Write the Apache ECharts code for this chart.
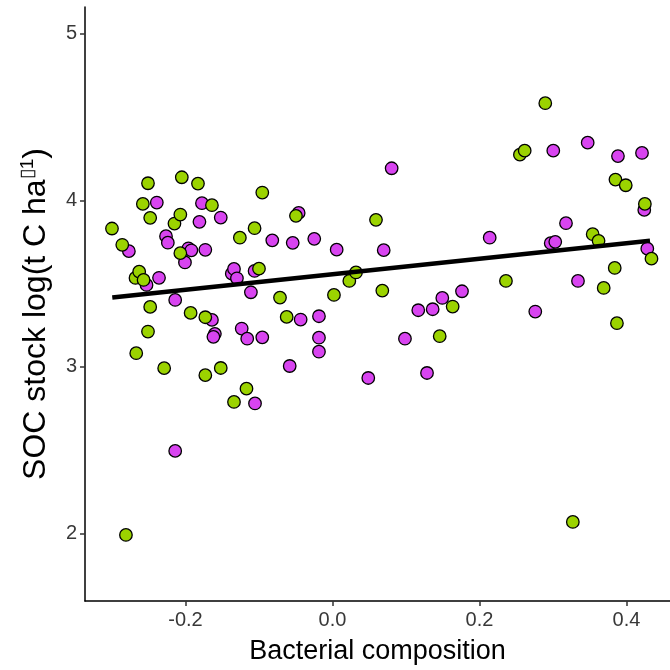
<!DOCTYPE html>
<html>
<head>
<meta charset="utf-8">
<script src="https://cdn.jsdelivr.net/npm/echarts@6/dist/echarts.min.js"></script>
<style>html,body{margin:0;padding:0;background:#fff}#c{width:670px;height:670px}</style>
</head>
<body>
<div id="c"></div>
<script>
// Green group: x, y
const greenX = [-0.300,-0.286,-0.268,-0.263,-0.257,-0.258,-0.251,-0.248,-0.248,-0.251,-0.267,-0.229,-0.215,-0.207,-0.205,-0.207,-0.193,-0.183,-0.173,-0.173,-0.164,-0.152,-0.134,-0.126,-0.117,-0.106,-0.100,-0.0955,-0.0714,-0.0623,-0.0497,0.002,0.0229,0.032,0.0592,0.0678,0.1459,0.1635,0.236,0.255,0.2615,0.2895,0.354,0.362,0.369,0.384,0.385,0.387,0.399,0.425,0.434,-0.281,0.327];
const greenY = [3.831,3.733,3.534,3.572,3.522,3.979,4.103,3.895,3.360,3.212,3.082,2.992,3.861,3.915,4.139,3.683,3.324,4.101,3.298,2.950,3.971,2.993,2.789,3.776,2.869,3.833,3.590,4.047,3.416,3.300,3.907,3.432,3.516,3.567,3.883,3.458,3.184,3.362,3.516,4.275,4.299,4.584,3.797,3.757,3.474,3.594,4.125,3.262,4.091,3.979,3.650,1.990,2.068];
// Magenta group: x, y
const magentaX = [-0.277,-0.253,-0.239,-0.236,-0.2265,-0.224,-0.214,-0.214,-0.2007,-0.196,-0.192,-0.181,-0.1776,-0.173,-0.164,-0.160,-0.162,-0.152,-0.137,-0.134,-0.130,-0.1235,-0.116,-0.111,-0.106,-0.1054,-0.0955,-0.0819,-0.0582,-0.0541,-0.046,-0.0433,-0.0248,-0.0184,-0.0184,-0.0184,0.0057,0.0487,0.0697,0.0805,0.0986,0.1167,0.1286,0.1363,0.1494,0.1762,0.2139,0.2759,0.2969,0.3031,0.3004,0.3177,0.334,0.3472,0.3884,0.4211,0.4242,0.4283];
const magentaY = [3.695,3.492,3.987,3.535,3.785,3.746,3.402,2.495,3.627,3.712,3.700,3.871,3.983,3.703,3.282,3.198,3.180,3.897,3.560,3.588,3.532,3.230,3.169,3.448,3.576,2.780,3.177,3.760,3.005,3.745,3.925,3.284,3.769,3.304,3.175,3.091,3.704,2.933,3.701,4.193,3.169,3.340,2.963,3.346,3.414,3.454,3.776,3.332,3.743,3.751,4.299,3.863,3.516,4.347,4.266,4.285,3.943,3.710];
// Fitted line end points
const fitX = [-0.2996, 0.432];
const fitY = [3.416, 3.757];
// Tick labels
const xTicks = [-0.2, 0.0, 0.2, 0.4];
const yTicks = [2, 3, 4, 5];

const zip = (a, b) => a.map((v, i) => [v, b[i]]);
const chart = echarts.init(document.getElementById('c'), null, {renderer: 'canvas'});
const font = 'Liberation Sans, Arial, sans-serif';
chart.setOption({
  animation: false,
  backgroundColor: '#ffffff',
  grid: {left: 85, right: 0, top: 7, bottom: 69},
  xAxis: {
    type: 'value', min: -0.3367, max: 0.4592,
    name: 'Bacterial composition', nameLocation: 'middle', nameGap: 37,
    nameTextStyle: {color: '#000', fontSize: 27, fontFamily: font},
    axisLine: {onZero: false, lineStyle: {color: '#000', width: 1.5}},
    axisTick: {show: true, length: 5, customValues: xTicks, lineStyle: {color: '#333', width: 1.5}},
    axisLabel: {customValues: xTicks, color: '#383838', fontSize: 20, fontFamily: font, margin: 9,
      formatter: v => v.toFixed(1)},
    splitLine: {show: false}
  },
  yAxis: {
    type: 'value', min: 1.593, max: 5.162,
    name: 'SOC stock log(t C ha{sup|▯1})', nameLocation: 'middle', nameGap: 31,
    nameTextStyle: {color: '#000', fontSize: 32, fontFamily: font, padding: [0, 20, 0, 0],
      rich: {sup: {fontSize: 19, verticalAlign: 'top', padding: [0, 0, 17, 0], color: '#000', fontFamily: font}}},
    axisLine: {onZero: false, lineStyle: {color: '#000', width: 1.5}},
    axisTick: {show: true, length: 5, customValues: yTicks, lineStyle: {color: '#333', width: 1.5}},
    axisLabel: {customValues: yTicks, color: '#383838', fontSize: 20, fontFamily: font, margin: 8,
      formatter: v => String(Math.round(v))},
    splitLine: {show: false}
  },
  series: [
    {type: 'scatter', data: zip(magentaX, magentaY), symbolSize: 12.5,
     itemStyle: {color: '#D844F0', borderColor: '#000', borderWidth: 1.3, opacity: 1}, z: 2},
    {type: 'scatter', data: zip(greenX, greenY), symbolSize: 12.5,
     itemStyle: {color: '#9BD300', borderColor: '#000', borderWidth: 1.3, opacity: 1}, z: 3},
    {type: 'line', data: zip(fitX, fitY), symbol: 'none', lineStyle: {color: '#000', width: 4.5, cap: 'butt'}, z: 4}
  ]
});
</script>
</body>
</html>
